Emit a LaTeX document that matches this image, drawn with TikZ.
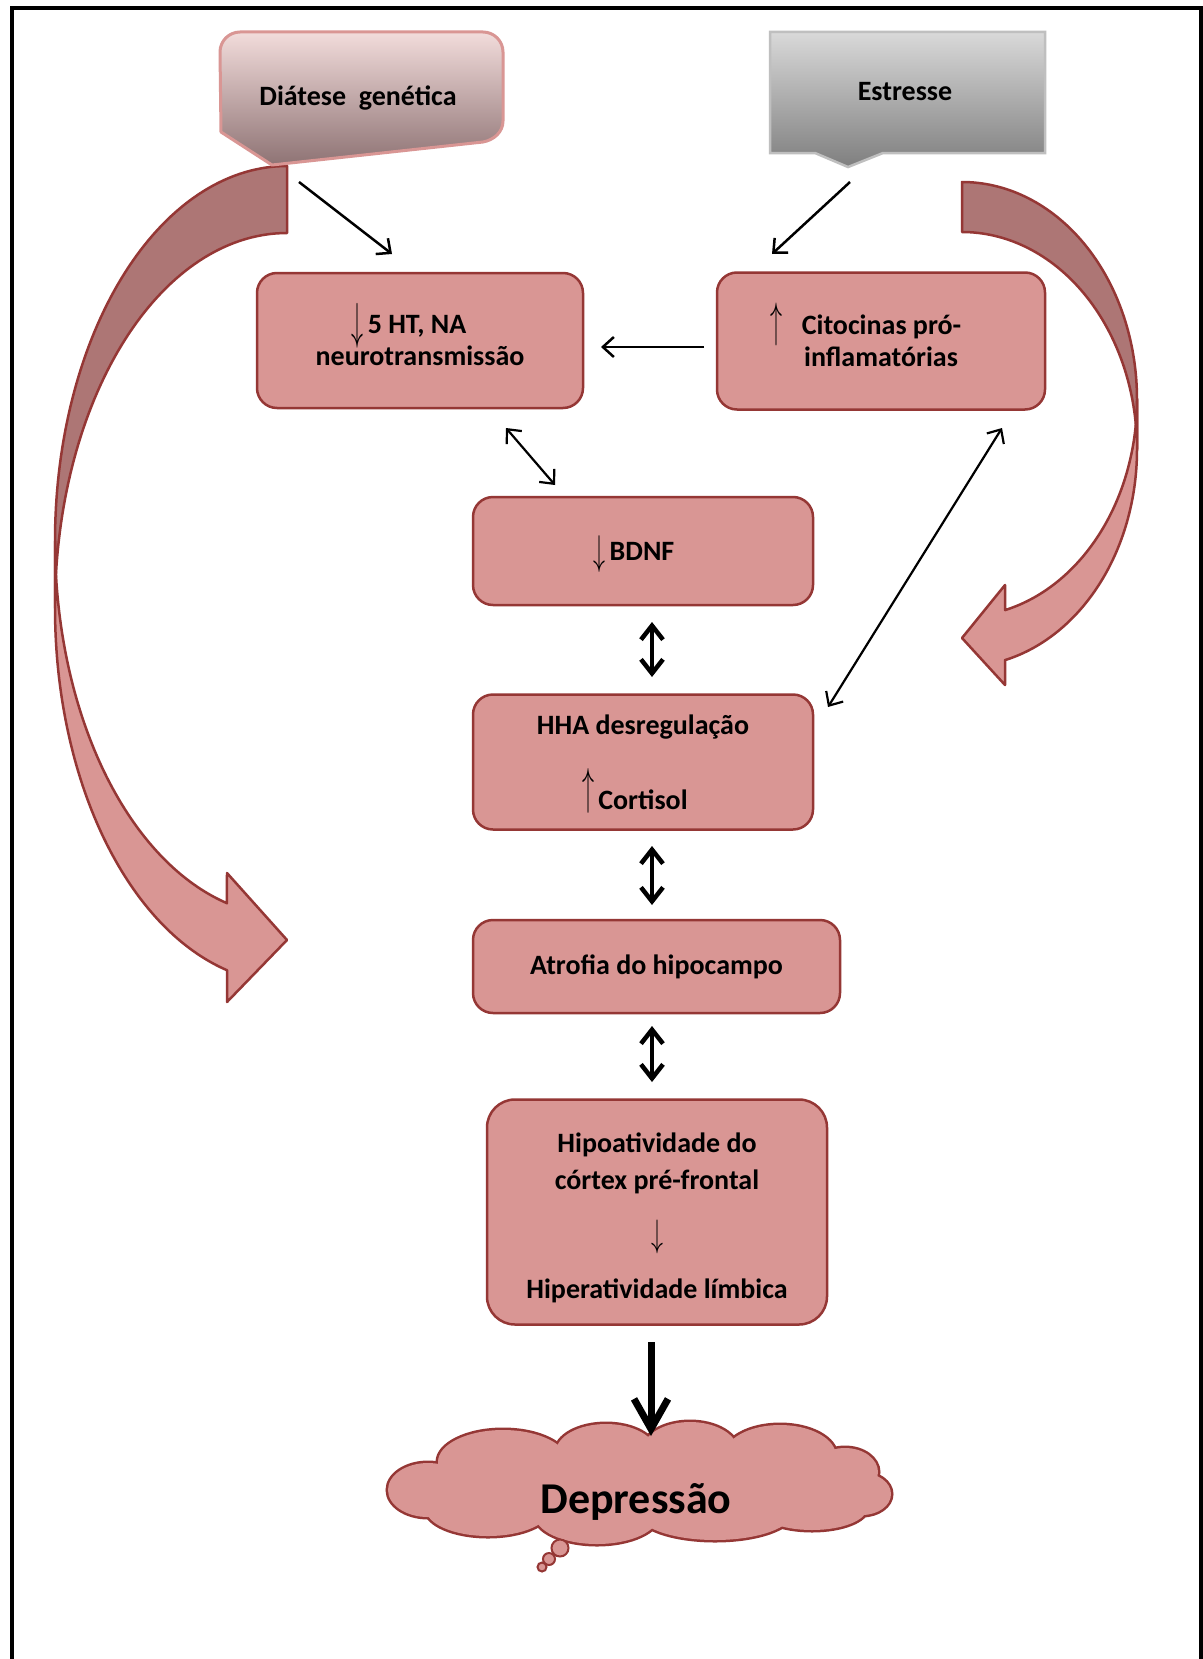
\documentclass[tikz,border=0pt]{standalone}
\usepackage{fontspec}
\setmainfont{Carlito}
\usetikzlibrary{arrows.meta}
\definecolor{boxfill}{HTML}{D99694}
\definecolor{boxline}{HTML}{953735}
\definecolor{darkband}{HTML}{AD7675}
\definecolor{pinktop}{HTML}{F2DCDB}
\definecolor{pinkbot}{HTML}{8E7374}
\definecolor{pinkline}{HTML}{D99694}
\definecolor{graytop}{HTML}{D9D9D9}
\definecolor{graybot}{HTML}{7F7F7F}
\definecolor{grayline}{HTML}{BFBFBF}
% #1 arrow symbol, #2 width, #3 total height, #4 bottom offset from baseline
\newcommand{\txtarr}[4]{\raisebox{#4}[0pt][0pt]{\resizebox*{#2}{#3}{\raisebox{\depth}{\fontsize{10}{12}\selectfont$#1$}}}}
\begin{document}
\begin{tikzpicture}[x=1pt,y=-1pt,
  box/.style={draw=boxline, fill=boxfill, line width=2.5pt, rounded corners=20pt, align=center, inner sep=0pt, font=\fontsize{28}{32}\selectfont\bfseries},
  txt/.style={font=\fontsize{28}{32}\selectfont\bfseries, inner sep=0pt},
  thinarr/.style={line width=2.5pt, -{Straight Barb[length=11pt,width=20pt]}},
  thindbl/.style={line width=2.2pt, {Straight Barb[length=11pt,width=20pt]}-{Straight Barb[length=11pt,width=20pt]}},
  thickdbl/.style={line width=4.5pt, {Straight Barb[length=14pt,width=22pt]}-{Straight Barb[length=14pt,width=22pt]}},
  bigarr/.style={line width=7pt, -{Straight Barb[length=30pt,width=34pt]}},
  bandlight/.style={fill=boxfill, draw=boxline, line width=2.5pt, line join=round},
  banddark/.style={fill=darkband, draw=boxline, line width=2.5pt, line join=round},
]
\useasboundingbox (0,0) rectangle (1202,1659);
\fill[white] (0,0) rectangle (1202,1659);
% frame
\draw[line width=3.5pt] (12,1661) -- (12,8) -- (1201,8) -- (1201,1661);

% left curved arrow (two equal ellipses shifted by the band thickness)
\path[banddark] (287,166) -- plot[domain=-90:-180,samples=70] ({287+232*cos(\x)},{541+375*sin(\x)})
  -- (55,608) -- plot[domain=180:270,samples=70] ({287+232*cos(\x)},{608+375*sin(\x)}) -- cycle;
\path[bandlight] (55,541) -- plot[domain=180:105,samples=70] ({287+232*cos(\x)},{541+375*sin(\x)})
  -- (227,873) -- (287,940) -- (227,1002) -- (227,970)
  -- plot[domain=105:180,samples=70] ({287+232*cos(\x)},{608+375*sin(\x)}) -- cycle;

% right curved arrow
\path[banddark] (962,182) -- plot[domain=-90:0,samples=70] ({962+175*cos(\x)},{399.4+217.4*sin(\x)})
  -- (1137,449.4) -- plot[domain=0:-90,samples=70] ({962+175*cos(\x)},{449.4+217.4*sin(\x)}) -- cycle;
\path[bandlight] (1137,399.4) -- plot[domain=0:75.76,samples=70] ({962+175*cos(\x)},{399.4+217.4*sin(\x)})
  -- (1005,585) -- (962,638) -- (1005,685) -- (1005,660.1)
  -- plot[domain=75.76:0,samples=70] ({962+175*cos(\x)},{449.4+217.4*sin(\x)}) -- cycle;

% callouts
\shadedraw[top color=pinktop, bottom color=pinkbot, draw=pinkline, line width=3pt, line join=round]
  (240,32) -- (483,32) .. controls (494,32) and (503,41) .. (503,52) -- (503,121)
  .. controls (503,132) and (494,140) .. (483,142) -- (272,165) -- (221,132) -- (220,52)
  .. controls (220,41) and (229,32) .. (240,32) -- cycle;
\node[txt] (dia) at (358,98) {Diátese\ \ genética};

\shadedraw[top color=graytop, bottom color=graybot, draw=grayline, line width=2.5pt]
  (770,32) -- (1045,32) -- (1045,153) -- (883,153) -- (848,167) -- (815,153) -- (770,153) -- cycle;
\node[txt] (est) at (905,92) {Estresse};

% boxes
\node[box, minimum width=326pt, minimum height=135pt] (b1) at (420,340.5)
  {\txtarr{\downarrow}{12pt}{45pt}{-15pt}\hspace{4pt}5 HT, NA\hspace*{22pt}\\neurotransmissão};
\node[box, minimum width=328pt, minimum height=137pt] (b2) at (881,341)
  {\txtarr{\uparrow}{12pt}{43pt}{-11pt}\hspace{19pt}Citocinas pró-\hspace*{30pt}\\inflamatórias};
\node[box, minimum width=340pt, minimum height=108pt] (b3) at (643,551)
  {\txtarr{\downarrow}{12pt}{37pt}{-13pt}\hspace{4pt}BDNF\hspace*{18pt}};
\node[box, minimum width=340pt, minimum height=135pt] (b4) at (643,762)
  {HHA desregulação\\[43pt]\txtarr{\uparrow}{12pt}{45pt}{-4pt}\hspace{4pt}Cortisol\hspace*{16pt}};
\node[box, minimum width=367pt, minimum height=93pt] (b5) at (656.5,966.5)
  {Atrofia do hipocampo};
\node[box, rounded corners=28pt, minimum width=340pt, minimum height=225pt] (b6) at (657,1212)
  {\rule{0pt}{31pt}Hipoatividade do\\[5pt]córtex pré-frontal\\[23pt]\txtarr{\downarrow}{12pt}{34pt}{-10pt}\hspace*{10pt}\\[22pt]Hiperatividade límbica};

% cloud (union of lobes: stroked pass, then fill pass)
\def\lobes{640/1485/215/42, 428/1490/40/27, 503/1462/65/32, 606/1452/50/28, 690/1451/48/29,
  780/1456/56/31, 845/1472/33/24, 862/1494/29/21, 812/1508/55/22, 715/1512/78/28,
  597/1515/62/29, 488/1509/62/27}
\foreach \cx/\cy/\rx/\ry in \lobes {
  \draw[boxline, line width=5pt] (\cx,\cy) ellipse[x radius=\rx, y radius=\ry];
}
\foreach \cx/\cy/\rx/\ry in \lobes {
  \fill[boxfill] (\cx,\cy) ellipse[x radius=\rx, y radius=\ry];
}
\node[font=\fontsize{44}{50}\selectfont\bfseries, inner sep=0pt] (dep) at (636,1502) {Depressão};
\filldraw[fill=boxfill, draw=boxline, line width=2pt] (560,1548) circle[radius=8.5];
\filldraw[fill=boxfill, draw=boxline, line width=2pt] (549,1559) circle[radius=6];
\filldraw[fill=boxfill, draw=boxline, line width=2pt] (542,1567) circle[radius=4.5];

% connector end points
\coordinate (c1s) at (299,182); \coordinate (c1e) at (392,254);
\coordinate (c2s) at (850,182); \coordinate (c2e) at (772,254);
\coordinate (c3s) at (704,347); \coordinate (c3e) at (601,347);
\coordinate (c4s) at (506,428); \coordinate (c4e) at (555,485);
\coordinate (c5s) at (1002,428); \coordinate (c5e) at (828,707);
\coordinate (c6s) at (652,622); \coordinate (c6e) at (652,677);
\coordinate (c7s) at (652,846); \coordinate (c7e) at (652,905);
\coordinate (c8s) at (652,1026); \coordinate (c8e) at (652,1082);
\coordinate (c9s) at (651,1342); \coordinate (c9e) at (651,1436);

\draw[thinarr] (c1s) -- (c1e);
\draw[thinarr] (c2s) -- (c2e);
\draw[thinarr] (c3s) -- (c3e);
\draw[thindbl] (c4s) -- (c4e);
\draw[thindbl] (c5s) -- (c5e);
\draw[thickdbl] (c6s) -- (c6e);
\draw[thickdbl] (c7s) -- (c7e);
\draw[thickdbl] (c8s) -- (c8e);
\draw[bigarr] (c9s) -- (c9e);
\end{tikzpicture}
\end{document}
